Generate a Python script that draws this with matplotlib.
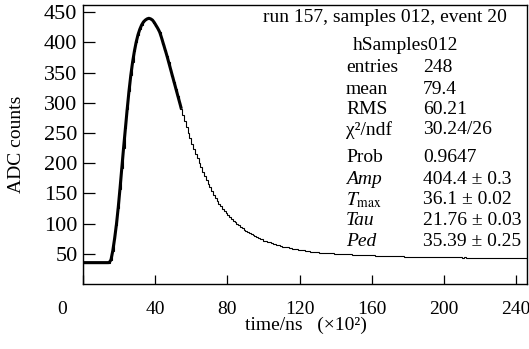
import numpy as np
import matplotlib
matplotlib.use("Agg")
import matplotlib.pyplot as plt

plt.rcParams['font.family'] = ['Liberation Serif', 'DejaVu Serif']
plt.rcParams['mathtext.fontset'] = 'stix'

# ---------------------------------------------------------------------------
# data: one ADC value per 1-unit time bin, starting at 0
# ---------------------------------------------------------------------------
adc_counts = [
    35.4, 35.4, 35.4, 35.4, 35.4, 35.4, 35.4, 35.4, 35.4, 35.4,
    35.4, 35.4, 35.4, 35.4, 35.5, 40, 55, 75, 98, 126,
    158, 192, 226, 258, 290, 320, 346, 368, 386, 401,
    413, 422, 429, 434, 437, 439, 440, 439, 437, 433,
    428, 423, 417, 408, 398, 388, 378, 367, 356, 345,
    334, 323, 312, 301, 290, 280, 270, 260, 250, 241,
    232, 224, 216, 208, 201, 193, 186, 179, 172, 166,
    160, 154, 148, 143, 138, 133, 129, 125, 121, 117,
    114, 111, 108, 105, 102, 99, 97, 94, 92, 90,
    88, 86, 84, 82, 81, 79, 78, 76, 75, 74,
    72, 71, 70, 69, 68, 67, 66, 65, 64, 63,
    62, 61.5, 61, 60.5, 60, 59, 58.5, 58, 57.5, 57,
    56.5, 56, 55.5, 55, 54.5, 54, 53.5, 53.2, 53, 52.7,
    52.4, 52.1, 51.8, 51.6, 51.4, 51.2, 51, 50.8, 50.6, 50.4,
    50.2, 50, 49.8, 49.7, 49.5, 49.3, 49.2, 49, 48.9, 48.7,
    48.6, 48.5, 48.3, 48.2, 48.1, 48, 47.8, 47.7, 47.6, 47.5,
    47.4, 47.3, 47.1, 47, 46.9, 46.8, 46.7, 46.6, 46.5, 46.4,
    46.3, 46.2, 46.1, 46, 45.9, 45.8, 45.7, 45.6, 45.5, 45.5,
    45.4, 45.3, 45.2, 45.2, 45.1, 45, 45, 44.9, 44.8, 44.8,
    44.7, 44.7, 44.6, 44.6, 44.5, 44.5, 44.4, 44.4, 44.3, 44.3,
    44.2, 44.3, 44.1, 44.2, 44.0, 44.1, 44.0, 43.9, 44.0, 43.9,
    43.8, 43.9, 43.8, 43.8, 43.7, 43.8, 43.7, 43.6, 43.7, 43.6,
    43.6, 43.5, 43.6, 43.5, 43.5, 43.4, 43.5, 43.4, 43.4, 43.5,
    43.4, 43.3, 43.4, 43.3, 43.3, 43.4, 43.2, 43.3, 43.2, 43.2,
    43.3, 43.1, 43.2, 43.1, 43.2, 43.1,
]
fit_end = 55          # fit drawn (thick) over the first bins
x_ticks = [0, 40, 80, 120, 160, 200, 240]
y_ticks = [50, 100, 150, 200, 250, 300, 350, 400, 450]

title_text = 'run 157, samples 012, event 20'
hist_name = 'hSamples012'
stat_labels = ['entries', 'mean', 'RMS', 'χ²/ndf', 'Prob',
               'Amp', r'$T_{\mathrm{max}}$', 'Tau', 'Ped']
stat_values = ['248', '79.4', '60.21', '30.24/26', '0.9647',
               '404.4 ± 0.3', '36.1 ± 0.02', '21.76 ± 0.03', '35.39 ± 0.25']
italic_rows = {'Amp', 'Tau', 'Ped'}
stat_rows_y = [68, 90, 110, 130, 158, 180, 200, 221, 241]   # pixel rows

W, H = 529, 349
fig = plt.figure(figsize=(W / 100, H / 100), dpi=100)
ax = fig.add_axes([83 / W, 1 - 284 / H, (527 - 83) / W, (284 - 5) / H])

edges = np.arange(len(adc_counts) + 1)
centers = edges[:-1] + 0.5
ax.stairs(adc_counts, edges, color='black', lw=0.8)
ax.plot(np.r_[0, centers[:fit_end]], np.r_[adc_counts[0], adc_counts[:fit_end]],
        color='black', lw=2.2, solid_capstyle='butt')

ax.set_xlim(0, 246)
ax.set_ylim(0, 462)
ax.set_xticks(x_ticks)
ax.set_xticklabels([''] + [str(t) for t in x_ticks[1:]])
ax.set_yticks(y_ticks)
ax.tick_params(axis='x', direction='in', length=6.5, width=0.9, pad=12, labelsize=14)
ax.tick_params(axis='y', direction='in', length=8.5, width=0.9, pad=4, labelsize=16)
for sp in ax.spines.values():
    sp.set_linewidth(1.0)

# the lone "0" sits left of the axis corner
fig.text(62 / W, 1 - 309 / H, '0', ha='center', va='center', fontsize=14)
fig.text(306 / W, 1 - 325 / H, 'time/ns   (×10²)', ha='center', va='center', fontsize=14)
fig.text(17 / W, 1 - 144 / H, 'ADC counts', ha='center', va='center',
         rotation=90, fontsize=14)

# stats block
fig.text(507 / W, 1 - 17 / H, title_text, ha='right', va='center', fontsize=14)
fig.text(406 / W, 1 - 45 / H, hist_name, ha='center', va='center', fontsize=14)
for lab, val, yy in zip(stat_labels, stat_values, stat_rows_y):
    fig.text(346 / W, 1 - yy / H, lab, ha='left', va='center', fontsize=14,
             style='italic' if lab in italic_rows else 'normal')
    fig.text(423 / W, 1 - yy / H, val, ha='left', va='center', fontsize=14)

fig.savefig('out.png', dpi=100)
